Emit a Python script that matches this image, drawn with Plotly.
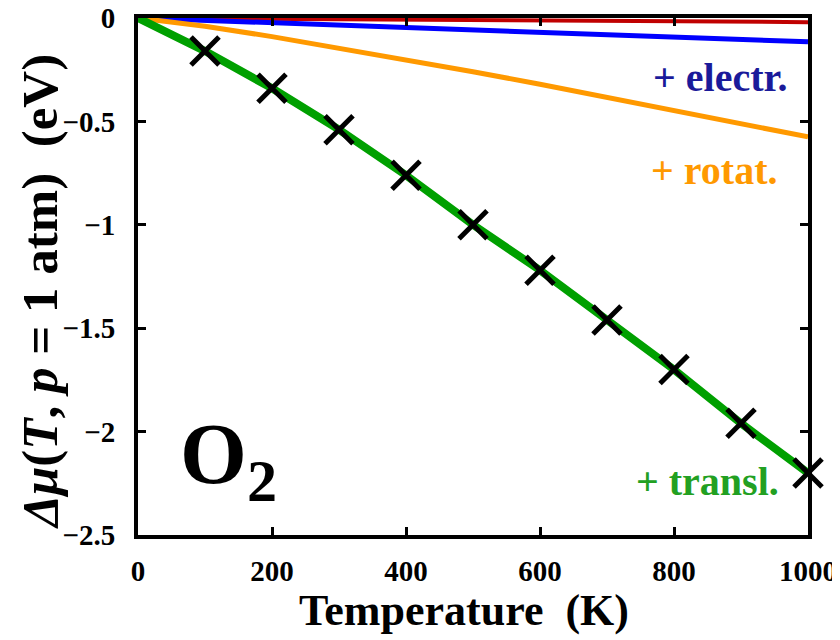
import plotly.graph_objects as go

T_line = [0, 50, 100, 200, 300, 400, 500, 600, 700, 800, 900, 1000]
vib = [0, -0.001, -0.002, -0.004, -0.006, -0.008, -0.010, -0.012, -0.014, -0.016, -0.018, -0.020]
electr = [0, -0.006, -0.012, -0.024, -0.037, -0.049, -0.061, -0.072, -0.082, -0.093, -0.104, -0.115]
rotat = [0, -0.017, -0.040, -0.090, -0.145, -0.200, -0.260, -0.320, -0.385, -0.445, -0.510, -0.575]
transl = [0, -0.075, -0.16, -0.34, -0.54, -0.76, -1.00, -1.22, -1.46, -1.70, -1.96, -2.20]

T_pts = [100, 200, 300, 400, 500, 600, 700, 800, 900, 1000]
table_vals = [-0.16, -0.34, -0.54, -0.76, -1.00, -1.22, -1.46, -1.70, -1.96, -2.20]

x_ticks = [0, 200, 400, 600, 800, 1000]
y_ticks = [0, -0.5, -1, -1.5, -2, -2.5]
y_ticklabels = ["0", "\u22120.5", "\u22121", "\u22121.5", "\u22122", "\u22122.5"]

x_title = "Temperature  (K)"
y_title = "<i>\u0394\u03bc</i>(<i>T</i>, <i>p</i> = 1 atm)  (eV)"

font = "'Liberation Serif', 'Times New Roman', Times, serif"

fig = go.Figure()
fig.add_trace(go.Scatter(x=T_line, y=vib, mode="lines", line=dict(color="#C00000", width=4)))
fig.add_trace(go.Scatter(x=T_line, y=electr, mode="lines", line=dict(color="#0000FF", width=5)))
fig.add_trace(go.Scatter(x=T_line, y=rotat, mode="lines", line=dict(color="#FF9900", width=5)))
fig.add_trace(go.Scatter(x=T_line, y=transl, mode="lines", line=dict(color="#00A000", width=8)))
fig.add_trace(go.Scatter(x=T_pts, y=table_vals, mode="markers", cliponaxis=False,
                         marker=dict(symbol="x-thin", size=28, color="black",
                                     line=dict(color="black", width=5))))

axis_common = dict(showline=True, linecolor="black", linewidth=4, mirror="ticks",
                   ticks="inside", ticklen=8, tickwidth=3, tickcolor="black",
                   showgrid=False, zeroline=False, automargin=False,
                   ticklabeloverflow="allow",
                   tickfont=dict(family=font, size=29, color="black", weight="bold"))

fig.update_xaxes(range=[0, 1000], tickvals=x_ticks, ticktext=[str(v) for v in x_ticks],
                 ticklabelstandoff=7, **axis_common)
fig.update_yaxes(range=[-2.5, 0], tickvals=y_ticks, ticktext=y_ticklabels,
                 ticklabelstandoff=13, **axis_common)

# plot area in page pixels: x 138..808, y 18..535
def px(x):
    return (x - 138) / 670

def py(y):
    return (535 - y) / 517

fig.add_annotation(x=px(40), y=py(292), xref="paper", yref="paper", text=y_title,
                   textangle=-90, showarrow=False, xanchor="center", yanchor="middle",
                   font=dict(family=font, size=51, color="black", weight="bold"))
fig.add_annotation(x=px(464), y=py(610), xref="paper", yref="paper", text=x_title,
                   showarrow=False, xanchor="center", yanchor="middle",
                   font=dict(family=font, size=44, color="black", weight="bold"))

annots = [
    dict(x=790, y=77, text="+ electr.", color="#1A1A9A"),
    dict(x=779, y=170, text="+ rotat.", color="#FF9900"),
    dict(x=781, y=481, text="+ transl.", color="#22A022"),
]
for a in annots:
    fig.add_annotation(x=px(a["x"]), y=py(a["y"]), xref="paper", yref="paper",
                       text=a["text"], showarrow=False, xanchor="right", yanchor="middle",
                       font=dict(family=font, size=40, color=a["color"], weight="bold"))

fig.add_annotation(x=px(228), y=py(460), xref="paper", yref="paper",
                   text="O<sub>2</sub>", showarrow=False, xanchor="center", yanchor="middle",
                   font=dict(family=font, size=86, color="black", weight="bold"))

# page body has an 8px margin, so shift figure margins accordingly
fig.update_layout(width=840, height=640, margin=dict(l=130, r=40, t=10, b=113),
                  plot_bgcolor="white", paper_bgcolor="white", showlegend=False)

fig.write_html("out.html")
